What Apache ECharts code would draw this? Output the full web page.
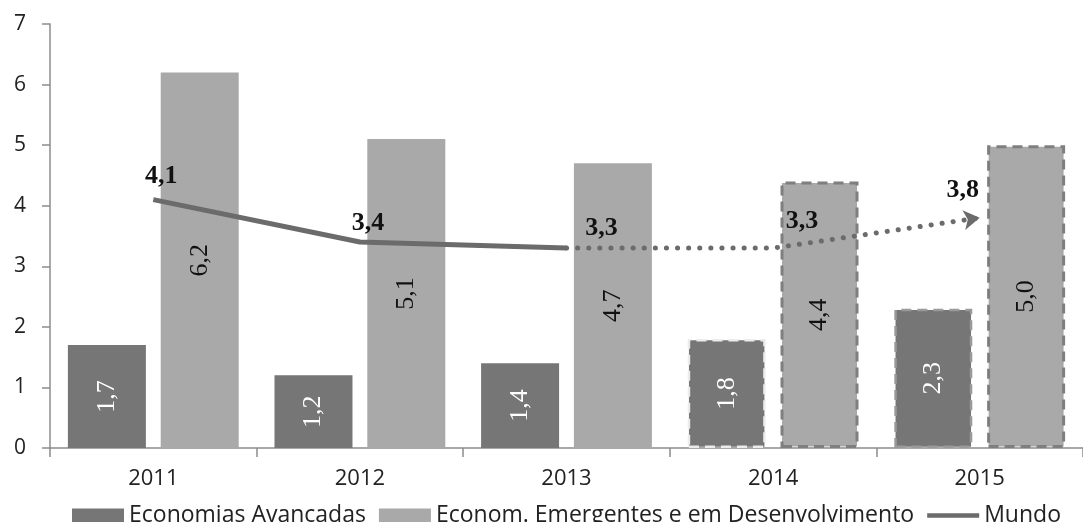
<!DOCTYPE html>
<html>
<head>
<meta charset="utf-8">
<script src="https://cdn.jsdelivr.net/npm/echarts@6/dist/echarts.min.js"></script>
<style>
  html, body { margin: 0; padding: 0; background: #fff; }
  #chart { width: 1083px; height: 522px; }
</style>
</head>
<body>
<div id="chart"></div>
<script>
// dados do gráfico
var anos = ['2011', '2012', '2013', '2014', '2015'];
var avancadas = [1.7, 1.2, 1.4, 1.8, 2.3];
var emergentes = [6.2, 5.1, 4.7, 4.4, 5.0];
var mundoReal = [4.1, 3.4, 3.3, null, null];    // trecho observado (linha cheia)
var mundoProj = [null, null, 3.3, 3.3, 3.8];    // projeção (pontilhado)
var projetado = [false, false, false, true, true];

// deslocamento dos rótulos da linha
var offsetsMundo = [[8, -10], [8, -6], [35, -7], [29, -14], [-9, -5]];

var chart = echarts.init(document.getElementById('chart'), null, { renderer: 'canvas' });

function fmt(v) {
  return v.toFixed(1).replace('.', ',');
}

var corEscura = '#767676';
var corClara = '#a9a9a9';
var corLinha = '#6b6b6b';

var serifLabel = {
  fontFamily: '"Liberation Serif", "DejaVu Serif", serif',
  fontSize: 26
};

var option = {
  animation: false,
  backgroundColor: '#fff',
  grid: { left: 50, right: -12, top: 24, bottom: 74, containLabel: false },
  legend: {
    left: 67,
    top: 499,
    itemWidth: 52,
    itemHeight: 14,
    itemGap: 13,
    data: [
      { name: 'Economias Avançadas', icon: 'rect' },
      { name: 'Econom. Emergentes e em Desenvolvimento', icon: 'rect' },
      { name: 'Mundo', icon: 'path://M0,0 H56 V5 H0 Z' }
    ],
    textStyle: { fontFamily: '"Open Sans", sans-serif', fontSize: 23, color: '#222', lineHeight: 22 }
  },
  xAxis: {
    type: 'category',
    data: anos,
    axisLine: { lineStyle: { color: '#8c8c8c', width: 1.5 } },
    axisTick: { show: true, length: 9, lineStyle: { color: '#8c8c8c', width: 1.5 } },
    axisLabel: { margin: 20, fontFamily: '"Open Sans", sans-serif', fontSize: 22, color: '#222' }
  },
  yAxis: {
    type: 'value',
    min: 0,
    max: 7,
    interval: 1,
    splitLine: { show: false },
    axisLine: { show: true, lineStyle: { color: '#8c8c8c', width: 1.5 } },
    axisTick: { show: true, length: 8, lineStyle: { color: '#8c8c8c', width: 1.5 } },
    axisLabel: { margin: 24, fontFamily: '"Open Sans", sans-serif', fontSize: 21, color: '#222' }
  },
  series: [
    {
      name: 'Economias Avançadas',
      type: 'bar',
      barWidth: 78,
      barGap: '19%',
      itemStyle: { color: corEscura },
      label: Object.assign({
        show: true, position: 'inside', rotate: 90, color: '#fff',
        formatter: function (p) { return fmt(p.value); }
      }, serifLabel),
      data: avancadas.map(function (v, i) {
        if (!projetado[i]) return v;
        return {
          value: v,
          itemStyle: { borderColor: i === 3 ? '#ececec' : '#9a9a9a', borderWidth: 2.5, borderType: [10, 6] }
        };
      })
    },
    {
      name: 'Econom. Emergentes e em Desenvolvimento',
      type: 'bar',
      barWidth: 78,
      itemStyle: { color: corClara },
      label: Object.assign({
        show: true, position: 'inside', rotate: 90, color: '#111',
        formatter: function (p) { return fmt(p.value); }
      }, serifLabel),
      data: emergentes.map(function (v, i) {
        if (!projetado[i]) return v;
        return {
          value: v,
          itemStyle: { borderColor: '#7f7f7f', borderWidth: 3, borderType: [10, 6] }
        };
      })
    },
    {
      name: 'Mundo',
      type: 'line',
      symbol: 'circle',
      symbolSize: 0.1,
      showSymbol: true,
      z: 5,
      lineStyle: { color: corLinha, width: 5 },
      itemStyle: { color: corLinha },
      label: Object.assign({
        show: true, position: 'top', distance: 0, color: '#111', fontWeight: 'bold',
        formatter: function (p) { return fmt(p.value); }
      }, serifLabel),
      data: mundoReal.map(function (v, i) {
        if (v == null) return v;
        return { value: v, label: { offset: offsetsMundo[i] } };
      })
    },
    {
      name: 'Mundo (projeção)',
      type: 'line',
      symbol: 'circle',
      symbolSize: 0.1,
      showSymbol: true,
      z: 5,
      lineStyle: { color: corLinha, width: 5, type: [0.1, 11], cap: 'round' },
      itemStyle: { color: corLinha },
      label: Object.assign({
        show: true, position: 'top', distance: 0, color: '#111', fontWeight: 'bold',
        formatter: function (p) { return fmt(p.value); }
      }, serifLabel),
      data: mundoProj.map(function (v, i) {
        if (v == null) return v;
        var item = { value: v, label: { offset: offsetsMundo[i] } };
        if (i === 2) item.label = { show: false };
        if (i === mundoProj.length - 1) {
          item.symbol = 'arrow';
          item.symbolSize = [15, 16];
          item.symbolRotate = -82;
        }
        return item;
      })
    }
  ]
};

chart.setOption(option);
</script>
</body>
</html>
